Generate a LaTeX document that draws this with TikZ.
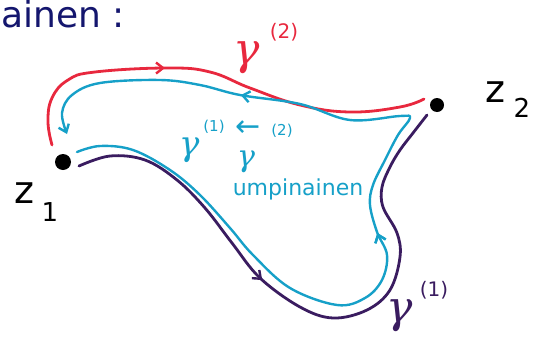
\documentclass[tikz,border=0pt]{standalone}
\usepackage{fontspec}
\setmainfont{DejaVu Sans}
\newfontfamily\gfont{DejaVu Serif}
\usetikzlibrary{arrows.meta,decorations.markings}
\definecolor{redc}{RGB}{232,40,62}
\definecolor{cyanc}{RGB}{22,160,200}
\definecolor{purplec}{RGB}{58,28,96}
\definecolor{navyc}{RGB}{20,22,110}
\tikzset{
  curve/.style={line width=2.8pt, line cap=round, line join=round},
  barb/.tip={Straight Barb[length=7pt,width=11pt,line width=2.4pt]},
  midbarb/.style={postaction={decorate}, decoration={markings, mark=at position #1 with {\arrow{barb}}}},
  dot/.style={circle, fill=black, inner sep=0pt, minimum size=#1},
  hand/.style={inner sep=0pt},
  gam/.style={inner sep=0pt, font=\gfont\itshape\fontsize{#1}{#1}\selectfont},
}
\begin{document}
\begin{tikzpicture}[x=1pt,y=-1pt]
\useasboundingbox (0,0) rectangle (537,343);
% points
\node[dot=16pt] (z1) at (63,162) {};
\node[dot=14pt] (z2) at (437,105) {};
\node[hand, font=\fontsize{38}{40}\selectfont] (z1l) at (24,193) {z};
\node[hand, font=\fontsize{26}{28}\selectfont] (z1s) at (50,212) {1};
\node[hand, font=\fontsize{38}{40}\selectfont] (z2l) at (495,92) {z};
\node[hand, font=\fontsize{26}{28}\selectfont] (z2s) at (522,108) {2};
% title
\node[hand, anchor=west, text=navyc, font=\fontsize{36}{38}\selectfont] (title) at (1,14) {ainen :};
% curve endpoints
\coordinate (rs) at (52,145);
\coordinate (re) at (424,99);
\coordinate (cs) at (77,152);
\coordinate (ce) at (67,134);
\coordinate (ps) at (79,166);
\coordinate (pe) at (427,115);
% red gamma(2)
\draw[curve, redc, midbarb=0.39] plot[smooth, tension=0.7] coordinates {(rs) (48,122) (52,98) (68,80) (95,72) (167,68) (210,72) (250,88) (300,105) (350,112) (400,107) (re)};
% purple gamma(1)
\draw[curve, purplec, midbarb=0.41] plot[smooth, tension=0.6] coordinates {(ps) (110,156) (145,160) (177,180) (205,208) (232,243) (260,278) (300,307) (333,318) (367,310) (390,290) (400,257) (397,233) (383,207) (382,187) (390,167) (400,150) (413,133) (pe)};
% cyan loop
\draw[curve, line width=2.4pt, cyanc, midbarb=0.45, postaction={decorate, decoration={markings, mark=at position 0.77 with {\arrow{barb}}}}, -{barb}] plot[smooth, tension=0.6] coordinates {(cs) (100,146) (133,150) (170,170) (200,195) (230,228) (253,255) (290,288) (337,305) (365,298) (382,280) (387,255) (377,232) (370,205) (373,185) (385,160) (398,135) (410,118) (400,116) (350,120) (300,104) (240,95) (200,85) (160,80) (100,83) (72,95) (62,113) (ce)};
% labels
\node[gam=44, text=redc] (g2) at (247,58) {γ};
\node[hand, text=redc, font=\fontsize{20}{22}\selectfont] (g2s) at (284,32) {(2)};
\node[gam=44, text=purplec] (g1) at (400,316) {γ};
\node[hand, text=purplec, font=\fontsize{20}{22}\selectfont] (g1s) at (434,290) {(1)};
\node[gam=34, text=cyanc] (ig1) at (190,150) {γ};
\node[hand, text=cyanc, font=\fontsize{15}{16}\selectfont] (ig1s) at (214,127) {(1)};
\node[hand, text=cyanc, font=\fontsize{30}{30}\selectfont] (iarr) at (248,129) {←};
\node[hand, text=cyanc, font=\fontsize{15}{16}\selectfont] (ig2s) at (282,131) {(2)};
\node[gam=30, text=cyanc] (ig2) at (246,162) {γ};
\node[hand, text=cyanc, font=\fontsize{22}{24}\selectfont] (ump) at (298,189) {umpinainen};
\end{tikzpicture}
\end{document}
